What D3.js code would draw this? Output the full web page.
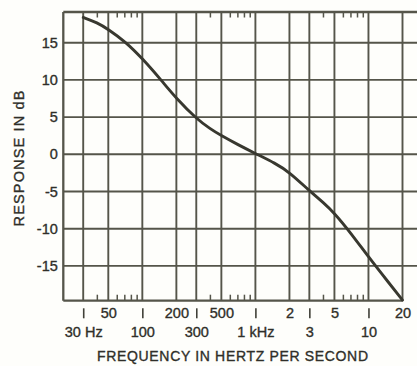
<!DOCTYPE html>
<html>
<head>
<meta charset="utf-8">
<script src="https://cdn.jsdelivr.net/npm/d3@7"></script>
<style>
  html, body { margin: 0; padding: 0; background: #fefefb; }
  svg { display: block; }
  text { font-family: "Liberation Sans", Arial, Helvetica, sans-serif; fill: #2f2f29; stroke: #2f2f29; stroke-width: 0.35px; }
</style>
</head>
<body>
<svg id="chart" width="417" height="366"></svg>
<script>
// ---- data ----
const freqs    = [30, 40, 50, 70, 100, 150, 200, 300, 400, 500, 700, 1000, 1500, 2000, 3000, 4000, 5000, 7000, 10000, 15000, 20000];
const response = [18.4, 17.7, 16.8, 15.2, 12.9, 9.8, 7.5, 4.8, 3.4, 2.5, 1.3, 0.1, -1.2, -2.4, -4.9, -6.5, -7.9, -10.6, -13.8, -17.2, -19.6];

const gridFreqs  = [30, 50, 100, 200, 300, 500, 1000, 2000, 3000, 5000, 10000, 20000];
const minorFreqs = [40, 60, 70, 80, 90, 400, 600, 700, 800, 900, 4000, 6000, 7000, 8000, 9000];
const row1Freqs  = [50, 200, 500, 2000, 5000, 20000];
const row1Labels = ["50", "200", "500", "2", "5", "20"];
const row2Freqs  = [30, 100, 300, 1000, 3000, 10000];
const row2Labels = ["30 Hz", "100", "300", "1 kHz", "3", "10"];
const dbTicks    = [15, 10, 5, 0, -5, -10, -15];
const dbTickLabels = ["15", "10", "5", "0", "-5", "-10", "-15"];

const xTitle = "FREQUENCY IN HERTZ PER SECOND";
const yTitle = "RESPONSE IN dB";

// ---- layout ----
const plotLeft = 63.3, plotRight = 402.5, plotTop = 12, plotBottom = 300.7, gridRight = 417;
const gridColor = "#55554a", curveColor = "#38382f";

const svg = d3.select("#chart");
const x = d3.scaleLog().domain([20, 20000]).range([plotLeft, plotRight]);
const y = d3.scaleLinear().domain([-19.68, 19.13]).range([plotBottom, plotTop]);

const g = svg.append("g");

// horizontal grid lines
g.selectAll(".hgrid").data(dbTicks).join("line")
  .attr("x1", plotLeft).attr("x2", gridRight)
  .attr("y1", d => y(d)).attr("y2", d => y(d))
  .attr("stroke", gridColor).attr("stroke-width", 1.9);

// vertical grid lines
g.selectAll(".vgrid").data(gridFreqs).join("line")
  .attr("x1", d => x(d)).attr("x2", d => x(d))
  .attr("y1", plotTop).attr("y2", plotBottom)
  .attr("stroke", gridColor).attr("stroke-width", 1.9);

// frame
g.append("line").attr("x1", plotLeft).attr("x2", gridRight).attr("y1", plotTop).attr("y2", plotTop)
  .attr("stroke", gridColor).attr("stroke-width", 2.3);
g.append("line").attr("x1", plotLeft).attr("x2", plotRight).attr("y1", plotBottom).attr("y2", plotBottom)
  .attr("stroke", gridColor).attr("stroke-width", 2.3);
g.append("line").attr("x1", plotLeft).attr("x2", plotLeft).attr("y1", plotTop).attr("y2", plotBottom)
  .attr("stroke", gridColor).attr("stroke-width", 2.3);

// minor ticks top and bottom (inward)
g.selectAll(".mtTop").data(minorFreqs).join("line")
  .attr("x1", d => x(d)).attr("x2", d => x(d))
  .attr("y1", plotTop).attr("y2", plotTop + 5.5)
  .attr("stroke", gridColor).attr("stroke-width", 1.5);
g.selectAll(".mtBot").data(minorFreqs).join("line")
  .attr("x1", d => x(d)).attr("x2", d => x(d))
  .attr("y1", plotBottom).attr("y2", plotBottom - 6)
  .attr("stroke", gridColor).attr("stroke-width", 1.5);

// curve
const pts = freqs.map((f, i) => [f, response[i]]);
g.append("path").datum(pts)
  .attr("fill", "none").attr("stroke", curveColor).attr("stroke-width", 2.9)
  .attr("stroke-linecap", "round")
  .attr("d", d3.line().x(d => x(d[0])).y(d => y(d[1])).curve(d3.curveBasis));

// y axis labels
const yAxis = d3.axisLeft(y).tickValues(dbTicks).tickSize(0).tickPadding(5.5)
  .tickFormat((d, i) => dbTickLabels[i]);
const ya = svg.append("g").attr("transform", `translate(${plotLeft},0)`).call(yAxis);
ya.select(".domain").remove();
ya.selectAll("text").attr("font-size", 14.5).attr("fill", "#2f2f29")
  .attr("font-family", "'Liberation Sans', Arial, sans-serif");

// x axis row 1
const xAxis1 = d3.axisBottom(x).tickValues(row1Freqs).tickSize(0).tickPadding(6.8)
  .tickFormat((d, i) => row1Labels[i]);
const xa1 = svg.append("g").attr("transform", `translate(0,${plotBottom})`).call(xAxis1);
xa1.select(".domain").remove();
xa1.selectAll("text").attr("font-size", 14.5).attr("fill", "#2f2f29")
  .attr("font-family", "'Liberation Sans', Arial, sans-serif");

// x axis row 2 (with | marks)
const xAxis2 = d3.axisBottom(x).tickValues(row2Freqs).tickSize(10).tickPadding(8.3)
  .tickFormat((d, i) => row2Labels[i]);
const xa2 = svg.append("g").attr("transform", "translate(0,308.3)").call(xAxis2);
xa2.select(".domain").remove();
xa2.selectAll("line").attr("stroke", "#404038").attr("stroke-width", 1.6);
xa2.selectAll("text").attr("font-size", 14.5).attr("fill", "#2f2f29")
  .attr("font-family", "'Liberation Sans', Arial, sans-serif");

// titles
svg.append("text")
  .attr("x", 232.5).attr("y", 361)
  .attr("text-anchor", "middle")
  .attr("font-size", 14)
  .attr("textLength", 271).attr("lengthAdjust", "spacing")
  .text(xTitle);

svg.append("text")
  .attr("transform", "translate(24,158.5) rotate(-90)")
  .attr("text-anchor", "middle")
  .attr("font-size", 14.5)
  .attr("textLength", 136).attr("lengthAdjust", "spacing")
  .text(yTitle);
</script>
</body>
</html>
